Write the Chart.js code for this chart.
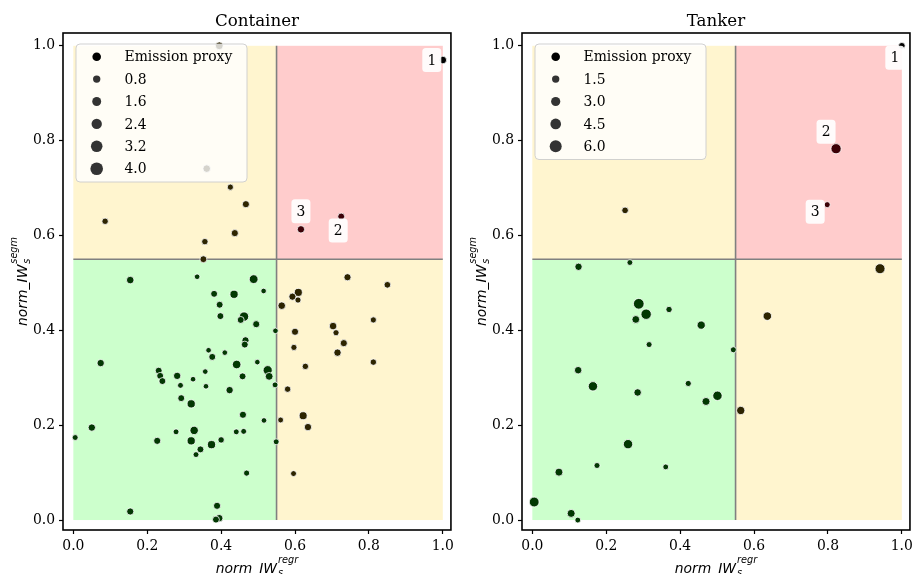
<!DOCTYPE html>
<html>
<head>
<meta charset="utf-8">
<script src="https://cdn.jsdelivr.net/npm/chart.js@4.4.1/dist/chart.umd.min.js"></script>
<style>
  body { margin: 0; background: #fff; }
  #wrap { position: relative; width: 917px; height: 574px; }
  canvas { position: absolute; top: 0; }
</style>
</head>
<body>
<div id="wrap">
  <canvas id="containerChart" width="458" height="574" style="left:0"></canvas>
  <canvas id="tankerChart" width="459" height="574" style="left:458px"></canvas>
</div>
<script>
// values (norm_IW regr / segm, emission proxy)
const containerX = [0.154, 0.335, 0.488, 0.515, 0.381, 0.435, 0.396, 0.398, 0.462, 0.453,
  0.495, 0.547, 0.466, 0.464, 0.366, 0.376, 0.410, 0.442, 0.498, 0.526,
  0.530, 0.546, 0.458, 0.357, 0.324, 0.359, 0.423, 0.074, 0.231, 0.235,
  0.241, 0.281, 0.290, 0.292, 0.319, 0.459, 0.516, 0.005, 0.050, 0.227,
  0.278, 0.327, 0.319, 0.374, 0.400, 0.441, 0.461, 0.344, 0.332, 0.469,
  0.154, 0.389, 0.395, 0.386, 0.549,
  0.352, 0.356, 0.437, 0.086, 0.467, 0.425, 0.361, 0.395,
  0.564, 0.580, 0.561, 0.742, 0.850, 0.609, 0.593, 0.608, 0.600, 0.812,
  0.703, 0.711, 0.597, 0.732, 0.715, 0.628, 0.812, 0.622, 0.635, 0.596];
const containerY = [0.506, 0.513, 0.508, 0.483, 0.477, 0.476, 0.454, 0.430, 0.429, 0.422,
  0.413, 0.399, 0.379, 0.370, 0.358, 0.344, 0.353, 0.328, 0.333, 0.316,
  0.303, 0.285, 0.303, 0.313, 0.297, 0.282, 0.274, 0.331, 0.315, 0.304,
  0.293, 0.304, 0.284, 0.257, 0.245, 0.222, 0.210, 0.174, 0.195, 0.167,
  0.186, 0.189, 0.167, 0.159, 0.169, 0.186, 0.187, 0.149, 0.138, 0.099,
  0.018, 0.030, 0.004, 0.001, 0.165,
  0.550, 0.587, 0.605, 0.630, 0.666, 0.702, 0.741, 1.000,
  0.452, 0.276, 0.211, 0.512, 0.496, 0.480, 0.471, 0.464, 0.397, 0.422,
  0.409, 0.395, 0.364, 0.373, 0.353, 0.324, 0.333, 0.220, 0.196, 0.098];
const containerE = [0.9, 0.1, 1.5, 0.1, 0.6, 1.2, 0.6, 0.6, 1.8, 0.6,
  0.7, 0.1, 0.7, 0.6, 0.1, 0.6, 0.1, 1.4, 0.1, 1.7,
  1.0, 0.2, 0.6, 0.1, 0.1, 0.1, 0.8, 0.8, 0.6, 0.6,
  0.6, 0.8, 0.2, 0.6, 1.2, 0.7, 0.1, 0.2, 0.8, 0.7,
  0.2, 1.3, 1.2, 1.2, 0.4, 0.2, 0.2, 0.6, 0.2, 0.3,
  0.7, 0.7, 0.8, 0.6, 0.2,
  0.6, 0.4, 0.7, 0.4, 0.7, 0.3, 0.9, 1.0,
  0.9, 0.4, 0.2, 0.7, 0.5, 1.1, 0.7, 0.3, 0.7, 0.3,
  0.9, 0.3, 0.3, 0.7, 0.8, 0.4, 0.4, 1.1, 0.8, 0.2];
// top three (rank 1, 2, 3)
const containerTopX = [1.000, 0.725, 0.616];
const containerTopY = [0.970, 0.640, 0.613];
const containerTopE = [0.9, 0.6, 0.8];

const tankerX = [0.125, 0.264, 0.288, 0.308, 0.280, 0.370, 0.457, 0.316, 0.544, 0.124,
  0.164, 0.422, 0.285, 0.501, 0.470, 0.259, 0.175, 0.361, 0.072, 0.005,
  0.105, 0.123, 0.251, 0.564, 0.941, 0.636];
const tankerY = [0.534, 0.543, 0.456, 0.434, 0.423, 0.444, 0.411, 0.370, 0.359, 0.316,
  0.282, 0.288, 0.269, 0.262, 0.250, 0.160, 0.115, 0.112, 0.101, 0.038,
  0.014, 0.000, 0.653, 0.231, 0.530, 0.430];
const tankerE = [1.5, 0.5, 4.5, 4.2, 1.8, 0.8, 2.2, 0.6, 0.6, 1.6,
  3.2, 0.7, 1.6, 3.2, 2.0, 3.2, 0.6, 0.5, 2.0, 3.6,
  2.0, 0.5, 1.0, 2.2, 3.8, 2.4];
const tankerTopX = [1.000, 0.822, 0.798];
const tankerTopY = [1.000, 0.783, 0.665];
const tankerTopE = [1.0, 4.0, 0.6];

const rankLabels = ['1', '2', '3'];
const containerLegend = [0.8, 1.6, 2.4, 3.2, 4.0];
const tankerLegend = [1.5, 3.0, 4.5, 6.0];
const xTicks = [0.0, 0.2, 0.4, 0.6, 0.8, 1.0];
const yTicks = [0.0, 0.2, 0.4, 0.6, 0.8, 1.0];
const tickLabels = ['0.0', '0.2', '0.4', '0.6', '0.8', '1.0'];
const threshold = 0.55;

const SERIF = "'DejaVu Serif', serif";
const SANS = "'DejaVu Sans', sans-serif";

function quadColor(x, y) {
  if (x >= threshold && y >= threshold) return '#3c0006';
  if (x < threshold && y < threshold) return '#023802';
  return '#2d2400';
}

function roundRect(ctx, x, y, w, h, r) {
  ctx.beginPath();
  ctx.moveTo(x + r, y);
  ctx.lineTo(x + w - r, y);
  ctx.arcTo(x + w, y, x + w, y + r, r);
  ctx.lineTo(x + w, y + h - r);
  ctx.arcTo(x + w, y + h, x + w - r, y + h, r);
  ctx.lineTo(x + r, y + h);
  ctx.arcTo(x, y + h, x, y + h - r, r);
  ctx.lineTo(x, y + r);
  ctx.arcTo(x, y, x + r, y, r);
  ctx.closePath();
}

// quadrant shading + divider lines, under the points
const quadrants = {
  id: 'quadrants',
  beforeDatasetsDraw(chart) {
    const { ctx, scales: { x, y } } = chart;
    const x0 = x.getPixelForValue(0), xm = x.getPixelForValue(threshold), x1 = x.getPixelForValue(1);
    const y0 = y.getPixelForValue(0), ym = y.getPixelForValue(threshold), y1 = y.getPixelForValue(1);
    ctx.save();
    ctx.fillStyle = '#ccffcc'; ctx.fillRect(x0, ym, xm - x0, y0 - ym);
    ctx.fillStyle = '#fff5cf'; ctx.fillRect(x0, y1, xm - x0, ym - y1);
    ctx.fillRect(xm, ym, x1 - xm, y0 - ym);
    ctx.fillStyle = '#ffcccc'; ctx.fillRect(xm, y1, x1 - xm, ym - y1);
    ctx.strokeStyle = '#808080'; ctx.lineWidth = 1.6;
    ctx.beginPath();
    ctx.moveTo(xm, y1); ctx.lineTo(xm, y0);
    ctx.moveTo(x0, ym); ctx.lineTo(x1, ym);
    ctx.stroke();
    ctx.restore();
  }
};

// frame, rank labels, size legend, titles
const overlay = {
  id: 'overlay',
  afterDatasetsDraw(chart, args, o) {
    const { ctx, chartArea: a, scales: { x, y } } = chart;
    ctx.save();
    ctx.strokeStyle = '#000'; ctx.lineWidth = 1.6;
    ctx.strokeRect(a.left, a.top, a.right - a.left, a.bottom - a.top);

    // rank labels
    ctx.font = '13.9px ' + SERIF;
    ctx.textAlign = 'center'; ctx.textBaseline = 'middle';
    o.topX.forEach((v, i) => {
      const px = x.getPixelForValue(v) + o.offsets[i][0];
      const py = y.getPixelForValue(o.topY[i]) + o.offsets[i][1];
      ctx.fillStyle = 'rgba(255,255,255,0.92)';
      roundRect(ctx, px - 9.5, py - 12, 19, 24, 3.5);
      ctx.fill();
      ctx.fillStyle = '#000';
      ctx.fillText(rankLabels[i], px, py + 1);
    });

    // size legend
    const lx = a.left + 13, ly = a.top + 11, lw = 171;
    const rows = o.legend.length + 1;
    const lh = 138 - (5 - o.legend.length) * 22.5;
    ctx.fillStyle = 'rgba(255,255,255,0.8)';
    roundRect(ctx, lx, ly, lw, lh, 4);
    ctx.fill();
    ctx.strokeStyle = 'rgba(204,204,204,0.9)'; ctx.lineWidth = 1;
    ctx.stroke();
    ctx.textAlign = 'left';
    for (let r = 0; r < rows; r++) {
      const cy = ly + 12.7 + r * 22.4;
      const rad = r === 0 ? 4.3 : o.size(o.legend[r - 1]);
      ctx.fillStyle = r === 0 ? '#000' : '#333';
      ctx.beginPath(); ctx.arc(lx + 20.7, cy, rad, 0, Math.PI * 2); ctx.fill();
      ctx.fillStyle = '#000';
      ctx.fillText(r === 0 ? 'Emission proxy' : o.legend[r - 1].toFixed(1), lx + 48.5, cy + 1);
    }
    ctx.restore();
  },
  afterDraw(chart, args, o) {
    const { ctx, chartArea: a } = chart;
    const cx = (a.left + a.right) / 2, cy = (a.top + a.bottom) / 2;
    ctx.save();
    ctx.fillStyle = '#000';
    ctx.textAlign = 'center'; ctx.textBaseline = 'alphabetic';
    ctx.font = '16.7px ' + SERIF;
    ctx.fillText(o.title, cx, 26);

    function mathLabel(sup) {
      ctx.font = 'italic 13.9px ' + SANS;
      const main = 'norm_IW';
      const wm = ctx.measureText(main).width;
      ctx.font = 'italic 9.7px ' + SANS;
      const ws = Math.max(ctx.measureText(sup).width, ctx.measureText('s').width);
      const start = -(wm + ws + 1) / 2;
      ctx.textAlign = 'left';
      ctx.font = 'italic 13.9px ' + SANS;
      ctx.fillText(main, start, 0);
      ctx.font = 'italic 9.7px ' + SANS;
      ctx.fillText(sup, start + wm + 1, -10.5);
      ctx.fillText('s', start + wm + 1, 3);
    }
    ctx.save();
    ctx.translate(cx, 573);
    mathLabel('regr');
    ctx.restore();
    ctx.save();
    ctx.translate(a.left - 36, cy);
    ctx.rotate(-Math.PI / 2);
    mathLabel('segm');
    ctx.restore();
    ctx.restore();
  }
};

function axis(ticksArr, fit) {
  return {
    type: 'linear',
    afterBuildTicks: s => { s.ticks = ticksArr.map(v => ({ value: v })); },
    afterFit: fit,
    grid: { display: true, drawOnChartArea: false, drawTicks: true, tickLength: 4, tickColor: '#000', tickWidth: 1.2 },
    border: { display: false },
    ticks: {
      autoSkip: false, maxRotation: 0, color: '#000', padding: 4,
      font: { family: SERIF, size: 13.9 },
      callback: (v, i) => tickLabels[i]
    }
  };
}

function makeChart(id, title, xs, ys, es, topX, topY, topE, legendVals, size, offsets, axisW, padRight) {
  const allX = xs.concat(topX), allY = ys.concat(topY), allE = es.concat(topE);
  const n = xs.length;
  const pts = allX.map((v, i) => ({ x: v, y: allY[i] }));
  const xAxis = axis(xTicks, s => { s.height = 44; });
  xAxis.min = -0.028; xAxis.max = 1.022;
  const yAxis = axis(yTicks, s => { s.width = axisW; });
  yAxis.min = -0.021; yAxis.max = 1.027;
  return new Chart(document.getElementById(id), {
    type: 'scatter',
    data: {
      datasets: [{
        data: pts,
        pointRadius: c => size(allE[c.dataIndex]),
        pointHoverRadius: c => size(allE[c.dataIndex]),
        pointBackgroundColor: c => c.dataIndex === n ? '#000000' : quadColor(allX[c.dataIndex], allY[c.dataIndex]),
        pointBorderColor: '#ffffff',
        pointBorderWidth: 0.8
      }]
    },
    options: {
      responsive: false,
      animation: false,
      events: [],
      layout: { padding: { top: 33, right: padRight, left: 0, bottom: 0 } },
      scales: { x: xAxis, y: yAxis },
      plugins: {
        legend: { display: false },
        tooltip: { enabled: false },
        overlay: { title, topX, topY, legend: legendVals, size, offsets }
      }
    },
    plugins: [quadrants, overlay]
  });
}

const containerSize = e => Math.sqrt(7 + 8.2 * e);
const tankerSize = e => Math.sqrt(6 + 5 * e);

makeChart('containerChart', 'Container', containerX, containerY, containerE,
  containerTopX, containerTopY, containerTopE, containerLegend, containerSize,
  [[-11, 0], [-3, 14], [0, -18]], 63, 7);
makeChart('tankerChart', 'Tanker', tankerX, tankerY, tankerE,
  tankerTopX, tankerTopY, tankerTopE, tankerLegend, tankerSize,
  [[-7, 12], [-10, -17], [-12, 7]], 64, 6);
</script>
</body>
</html>
